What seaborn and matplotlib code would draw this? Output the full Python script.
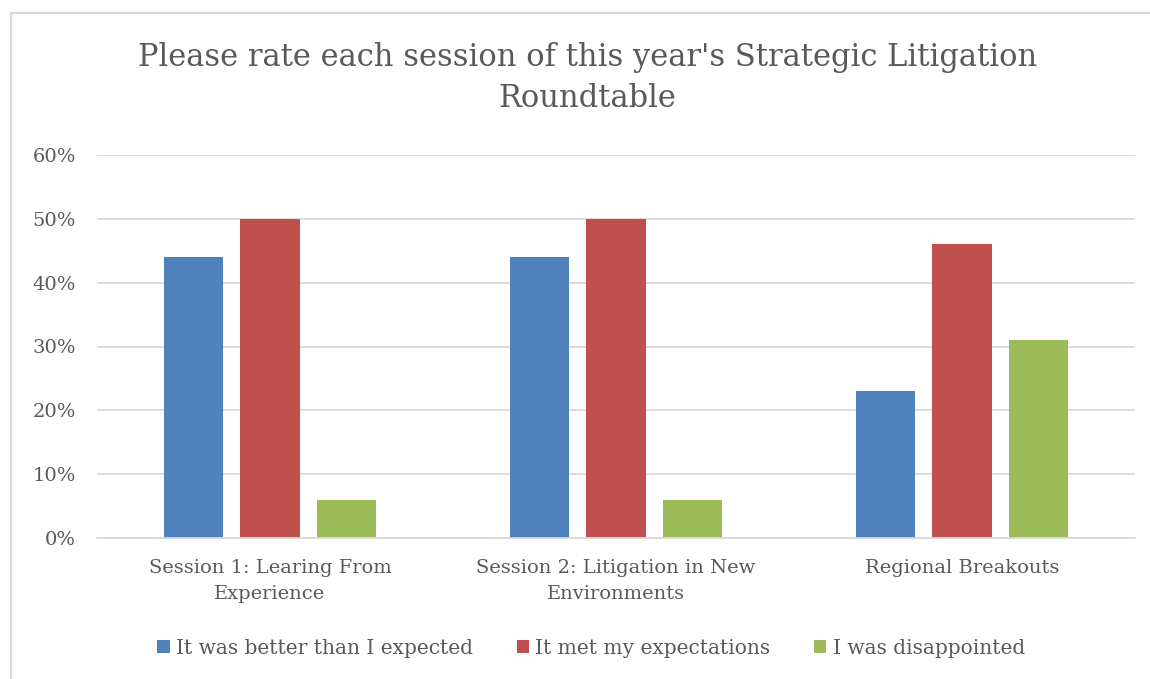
import matplotlib
matplotlib.use("Agg")
import matplotlib.pyplot as plt
import matplotlib.ticker as mticker
from matplotlib.lines import Line2D
import seaborn as sns
import pandas as pd

# data
sessions = ["Session 1: Learing From\nExperience",
            "Session 2: Litigation in New\nEnvironments",
            "Regional Breakouts"]
responses = ["It was better than I expected", "It met my expectations", "I was disappointed"]
better = [0.44, 0.44, 0.23]
met = [0.50, 0.50, 0.46]
disappointed = [0.06, 0.06, 0.31]
colors = ["#4f81bd", "#c0504d", "#9bbb59"]

rows = []
for resp, vals in zip(responses, [better, met, disappointed]):
    for s, v in zip(sessions, vals):
        rows.append({"session": s, "response": resp, "share": v})
df = pd.DataFrame(rows)

sns.set_theme(style="white")
plt.rcParams['font.family'] = ['DejaVu Serif']
TXT = "#595959"
GRID = "#d9d9d9"

fig = plt.figure(figsize=(11.5, 6.79), dpi=100)
ax = fig.add_axes([97 / 1150, 1 - 538 / 679, 1038 / 1150, 383 / 679])

sns.barplot(data=df, x="session", y="share", hue="response", hue_order=responses,
            palette=colors, width=0.663, gap=0.22, saturation=1, ax=ax,
            linewidth=0, legend=True)

ax.set_ylim(0, 0.6)
ax.set_xlim(-0.5, 2.5)
ax.yaxis.set_major_locator(mticker.MultipleLocator(0.1))
ax.yaxis.set_major_formatter(mticker.PercentFormatter(1.0, decimals=0))
ax.grid(axis="y", color=GRID, linewidth=1.3)
ax.set_axisbelow(True)
for side in ["top", "right", "left"]:
    ax.spines[side].set_visible(False)
ax.spines["bottom"].set_color(GRID)
ax.spines["bottom"].set_linewidth(1.3)
ax.tick_params(axis="both", length=0, labelsize=14, colors=TXT)
ax.tick_params(axis="x", pad=15)
ax.tick_params(axis="y", pad=15)
for lbl in ax.get_xticklabels():
    lbl.set_linespacing(1.6)
ax.set_xlabel("")
ax.set_ylabel("")

handles, labels = ax.get_legend_handles_labels()
ax.get_legend().remove()
fig.legend(handles, labels, loc="center", bbox_to_anchor=(0.514, 1 - 648 / 679),
           ncol=3, frameon=False, fontsize=14.5, labelcolor=TXT,
           handlelength=0.6, handleheight=0.6, handletextpad=0.3, columnspacing=2.2)

fig.text(0.511, 1 - 78 / 679,
         "Please rate each session of this year's Strategic Litigation\nRoundtable",
         ha="center", va="center", fontsize=22, color=TXT, linespacing=1.45)

# chart border (only top and left edges show; the reference is cropped)
x0, y0 = 11 / 1150, 1 - 13 / 679
fig.add_artist(Line2D([x0, 1.0], [y0, y0], transform=fig.transFigure,
                      color=GRID, linewidth=1.5))
fig.add_artist(Line2D([x0, x0], [0.0, y0], transform=fig.transFigure,
                      color=GRID, linewidth=1.5))

fig.savefig("out.png", dpi=100)
